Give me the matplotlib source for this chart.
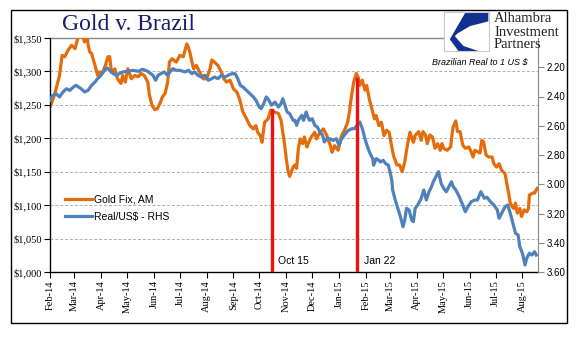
import matplotlib
matplotlib.use("Agg")
import matplotlib.pyplot as plt
from matplotlib.patches import Rectangle, Polygon
from matplotlib.ticker import FuncFormatter
import numpy as np
import pandas as pd

# DATA ------------------------------------------------------------
start = "2014-02-01"

gold_day = [0, 5, 11, 14, 17, 21, 25, 29, 32, 36, 40, 42, 44, 46, 48, 52, 55, 57, 61, 64,
            67, 69, 71, 75, 78, 82, 84, 87, 90, 94, 98, 102, 105, 109, 113, 115, 118, 121, 124, 127,
            130, 133, 136, 138, 141, 146, 150, 154, 158, 160, 162, 164, 166, 169, 173, 177, 181, 185, 187, 190,
            194, 198, 201, 204, 208, 212, 216, 219, 221, 223, 226, 229, 231, 235, 238, 240, 243, 245, 248, 252,
            255, 260, 264, 267, 269, 271, 273, 275, 277, 281, 283, 285, 287, 289, 292, 294, 297, 299, 302, 306,
            308, 312, 316, 320, 324, 326, 329, 333, 337, 341, 344, 346, 348, 351, 354, 356, 358, 361, 364, 366,
            369, 372, 375, 377, 380, 383, 386, 389, 392, 394, 397, 401, 404, 407, 410, 413, 416, 420, 422, 426,
            429, 431, 434, 436, 439, 442, 445, 448, 451, 453, 455, 459, 463, 465, 466, 469, 471, 474, 477, 480,
            484, 486, 489, 491, 494, 497, 499, 501, 504, 507, 511, 513, 516, 519, 522, 526, 528, 530, 532, 534,
            536, 538, 540, 543, 545, 548, 551, 553, 554, 558, 560, 563]
gold_val = [1247, 1264, 1294, 1324, 1322, 1332, 1339, 1334, 1349, 1360, 1344, 1368, 1340, 1329, 1327, 1309, 1294, 1299, 1299, 1309,
            1322, 1322, 1299, 1304, 1289, 1282, 1294, 1284, 1304, 1289, 1294, 1292, 1297, 1294, 1284, 1264, 1249, 1243, 1244, 1252,
            1262, 1267, 1284, 1314, 1319, 1314, 1324, 1322, 1341, 1336, 1327, 1314, 1304, 1309, 1299, 1289, 1289, 1304, 1317, 1314,
            1309, 1299, 1289, 1284, 1287, 1274, 1269, 1259, 1249, 1239, 1232, 1224, 1219, 1214, 1219, 1209, 1204, 1194, 1224, 1229,
            1242, 1239, 1237, 1227, 1209, 1192, 1170, 1152, 1143, 1157, 1160, 1155, 1184, 1199, 1192, 1202, 1187, 1194, 1202, 1209,
            1199, 1209, 1214, 1204, 1189, 1179, 1189, 1182, 1204, 1214, 1224, 1239, 1259, 1284, 1297, 1292, 1279, 1287, 1272, 1279,
            1259, 1244, 1229, 1234, 1219, 1224, 1204, 1212, 1209, 1194, 1174, 1160, 1160, 1150, 1165, 1189, 1209, 1194, 1204, 1210,
            1197, 1210, 1205, 1192, 1205, 1202, 1185, 1192, 1182, 1192, 1185, 1182, 1187, 1210, 1217, 1226, 1210, 1210, 1190, 1185,
            1187, 1182, 1172, 1182, 1180, 1178, 1197, 1195, 1175, 1172, 1172, 1162, 1157, 1162, 1152, 1147, 1132, 1118, 1103, 1098,
            1095, 1103, 1088, 1095, 1083, 1093, 1090, 1095, 1115, 1118, 1118, 1125]

brl_day = [0, 3, 7, 11, 15, 19, 23, 27, 30, 33, 36, 40, 44, 48, 52, 55, 59, 63, 66, 69,
           73, 77, 80, 84, 90, 96, 102, 107, 113, 119, 122, 125, 128, 132, 136, 140, 142, 146, 150, 156,
           160, 164, 167, 171, 175, 179, 183, 187, 190, 194, 198, 202, 206, 210, 214, 217, 220, 223, 227, 231,
           235, 238, 242, 244, 247, 250, 253, 256, 260, 264, 267, 269, 271, 274, 277, 281, 283, 285, 287, 291,
           293, 296, 298, 300, 303, 306, 309, 312, 315, 317, 320, 324, 327, 331, 334, 337, 340, 343, 345, 349,
           352, 356, 358, 361, 364, 367, 370, 373, 374, 377, 380, 382, 385, 388, 391, 393, 395, 396, 399, 402,
           405, 408, 410, 412, 415, 418, 420, 422, 425, 429, 432, 435, 438, 441, 443, 446, 449, 452, 455, 458,
           461, 464, 466, 469, 473, 477, 480, 483, 487, 491, 494, 498, 502, 505, 509, 513, 517, 519, 523, 526,
           529, 532, 535, 538, 541, 543, 546, 549, 551, 554, 557, 560, 562]
brl_val = [2.426, 2.392, 2.381, 2.403, 2.369, 2.347, 2.358, 2.335, 2.324, 2.335, 2.347, 2.369, 2.358, 2.324, 2.301, 2.278, 2.255, 2.221, 2.205, 2.221,
           2.244, 2.255, 2.244, 2.232, 2.228, 2.221, 2.228, 2.214, 2.228, 2.255, 2.289, 2.255, 2.244, 2.232, 2.255, 2.221, 2.210, 2.221, 2.221, 2.232,
           2.221, 2.244, 2.232, 2.255, 2.267, 2.255, 2.289, 2.278, 2.267, 2.278, 2.255, 2.267, 2.255, 2.244, 2.244, 2.278, 2.324, 2.335, 2.358, 2.381,
           2.403, 2.426, 2.472, 2.483, 2.449, 2.403, 2.426, 2.460, 2.438, 2.472, 2.449, 2.415, 2.449, 2.506, 2.517, 2.563, 2.563, 2.597, 2.563, 2.529,
           2.563, 2.506, 2.540, 2.563, 2.552, 2.597, 2.609, 2.643, 2.665, 2.711, 2.689, 2.689, 2.700, 2.689, 2.734, 2.689, 2.665, 2.643, 2.631, 2.620,
           2.620, 2.586, 2.574, 2.620, 2.689, 2.745, 2.791, 2.825, 2.870, 2.825, 2.836, 2.848, 2.836, 2.859, 2.870, 2.916, 2.973, 3.039, 3.108, 3.165,
           3.222, 3.290, 3.245, 3.165, 3.176, 3.245, 3.256, 3.165, 3.142, 3.096, 3.039, 3.108, 3.051, 3.016, 2.983, 2.948, 2.914, 2.994, 3.028, 3.051,
           3.016, 2.983, 3.016, 3.039, 3.085, 3.142, 3.188, 3.153, 3.119, 3.108, 3.108, 3.051, 3.096, 3.089, 3.119, 3.142, 3.176, 3.233, 3.188, 3.153,
           3.142, 3.199, 3.267, 3.335, 3.347, 3.427, 3.472, 3.552, 3.506, 3.472, 3.484, 3.461, 3.484]

event_dates = ["2014-10-15", "2015-01-22"]
event_tops = [1242, 1289]
event_labels = ["Oct 15", "Jan 22"]

gold_ticks = [1000, 1050, 1100, 1150, 1200, 1250, 1300, 1350]
brl_ticks = [2.2, 2.4, 2.6, 2.8, 3.0, 3.2, 3.4, 3.6]

# STYLE -----------------------------------------------------------
goldcolor = "#E46C0A"
brlcolor = "#4F81BD"
redcolor = "#EE1111"
serif = "Liberation Serif"
sans = "Liberation Sans"
W, H = 577, 341

t0 = pd.Timestamp(start)
gold_x = t0 + pd.to_timedelta(gold_day, unit="D")
brl_x = t0 + pd.to_timedelta(brl_day, unit="D")
ev_x = pd.to_datetime(event_dates)

fig = plt.figure(figsize=(W / 100, H / 100), dpi=100)
ax = fig.add_axes([50 / W, 1 - 272 / H, 488 / W, 234 / H])
ax2 = ax.twinx()

# outer frame
fig.patches.append(Rectangle((11 / W, 1 - 323 / H), 556 / W, 313 / H, transform=fig.transFigure,
                             fill=False, ec="black", lw=1.0))

for g in gold_ticks[1:-1]:
    ax.axhline(g, color="#b0b0b0", lw=0.7, ls=(0, (3, 2)), zorder=0)
ax.axhline(1350, xmin=0, xmax=0.805, color="#888888", lw=1.0, zorder=0, clip_on=False)

lg, = ax.plot(gold_x, gold_val, color=goldcolor, lw=2.3, solid_joinstyle="round", label="Gold Fix, AM")
lb, = ax2.plot(brl_x, brl_val, color=brlcolor, lw=2.3, solid_joinstyle="round", label="Real/US$ - RHS")

for d, top, lab in zip(ev_x, event_tops, event_labels):
    ax2.plot([d, d], [1000, top], color=redcolor, lw=2.4, transform=ax.transData, zorder=5)
    ax.annotate(lab, xy=(d, 1000), xytext=(5, 4), textcoords="offset points",
                fontsize=7.5, family=sans, color="black", va="bottom")

xmin = t0
xmax = t0 + pd.Timedelta(days=564)
ax.set_xlim(xmin, xmax)
ax.set_ylim(1000, 1350)
ax2.set_ylim(3.6, 2.0)

months = pd.date_range("2014-02-01", "2015-08-01", freq="MS")
ax.set_xticks(months)
ax.set_xticklabels([m.strftime("%b-%y") for m in months], rotation=90, fontsize=7.5, family=serif)
ax.set_yticks(gold_ticks)
ax.yaxis.set_major_formatter(FuncFormatter(lambda v, p: f"${v:,.0f}"))
ax.tick_params(axis="y", labelsize=7.5, labelfontfamily=serif, length=4, width=0.8, pad=2, direction="out")
ax.tick_params(axis="x", length=4, width=0.8, pad=2, direction="out")
ax2.set_yticks(brl_ticks)
ax2.yaxis.set_major_formatter(FuncFormatter(lambda v, p: f"{v:.2f}"))
ax2.tick_params(axis="y", labelsize=7, labelfontfamily=sans, length=4, width=0.8, color="#888888", pad=2)

for s in ["top", "right"]:
    ax.spines[s].set_visible(False)
for s in ["top", "left", "bottom"]:
    ax2.spines[s].set_visible(False)
ax.spines["left"].set_linewidth(1.0)
ax.spines["bottom"].set_linewidth(1.0)
ax2.spines["right"].set_color("#888888")

leg = ax2.legend(handles=[lg, lb], loc="upper left", bbox_to_anchor=(0.022, 0.35), frameon=False,
                 prop={"family": sans, "size": 7.5}, handlelength=2.6, handletextpad=0.15,
                 labelspacing=0.75, borderaxespad=0.0)

fig.text(62 / W, 1 - 25 / H, "Gold v. Brazil", family=serif, fontsize=17, color="#1b1a6b",
         va="center", ha="left")
fig.text(528 / W, 1 - 62 / H, "Brazilian Real to 1 US $", family=sans, style="italic",
         fontsize=6.5, va="center", ha="right")

# logo
lax = fig.add_axes([444 / W, 1 - 51 / H, 45 / W, 39 / H])
lax.set_xlim(0, 1)
lax.set_ylim(0, 1)
lax.set_xticks([])
lax.set_yticks([])
for s in lax.spines.values():
    s.set_color("#cccccc")
    s.set_linewidth(0.8)
lax.add_patch(Polygon([(0.47, 0.975), (0.985, 0.975), (0.985, 0.76), (0.58, 0.64), (0.30, 0.45),
                       (0.24, 0.38), (0.43, 0.13), (0.76, 0.0), (0.32, 0.0), (0.13, 0.30)],
                      closed=True, fc="#12308f", ec="none"))
for yy, word in zip([19, 32, 45], ["Alhambra", "Investment", "Partners"]):
    fig.text(494 / W, 1 - yy / H, word, family=serif, fontsize=10.5, color="#222222",
             va="center", ha="left")

plt.savefig("out.png", dpi=100)
plt.close()
